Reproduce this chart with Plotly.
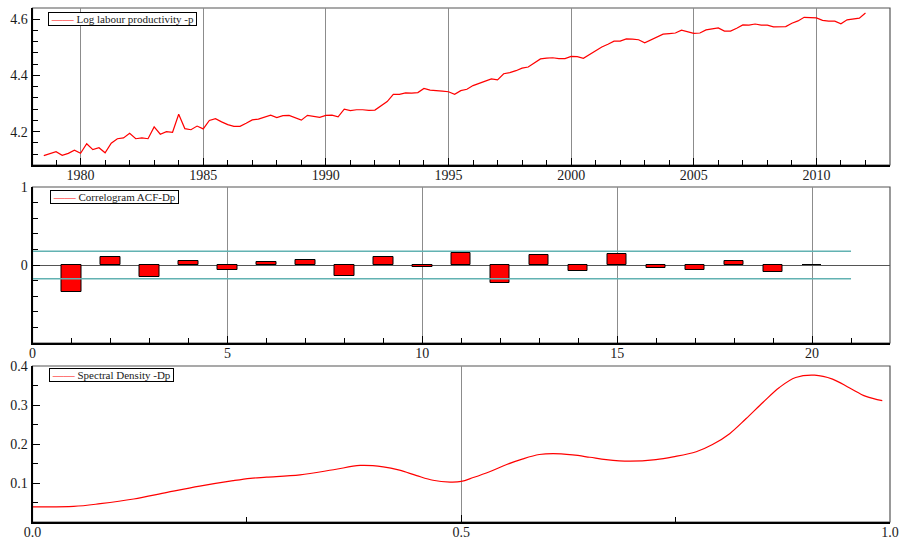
import numpy as np
import plotly.graph_objects as go

# ---- Data -------------------------------------------------------------
# Quarterly log labour productivity, 1978(3) - 2012(1)
p_start_year = 1978
p_start_quarter = 3
log_productivity = [
    4.115, 4.122, 4.129, 4.116, 4.123, 4.134, 4.123, 4.157, 4.136, 4.143,
    4.125, 4.159, 4.175, 4.178, 4.194, 4.175, 4.178, 4.175, 4.217, 4.191,
    4.200, 4.198, 4.262, 4.211, 4.207, 4.220, 4.210, 4.240, 4.246, 4.235,
    4.225, 4.219, 4.219, 4.230, 4.242, 4.245, 4.253, 4.259, 4.250, 4.257,
    4.258, 4.250, 4.241, 4.258, 4.255, 4.251, 4.258, 4.259, 4.253, 4.280,
    4.275, 4.278, 4.278, 4.276, 4.277, 4.292, 4.307, 4.333, 4.333, 4.338,
    4.337, 4.339, 4.354, 4.348, 4.345, 4.344, 4.342, 4.333, 4.346, 4.351,
    4.364, 4.371, 4.380, 4.388, 4.384, 4.406, 4.410, 4.417, 4.426, 4.430,
    4.445, 4.459, 4.462, 4.463, 4.460, 4.460, 4.468, 4.467, 4.461, 4.475,
    4.488, 4.501, 4.511, 4.522, 4.522, 4.530, 4.529, 4.527, 4.516, 4.527,
    4.537, 4.547, 4.549, 4.551, 4.561, 4.556, 4.550, 4.551, 4.562, 4.566,
    4.569, 4.558, 4.558, 4.568, 4.580, 4.579, 4.583, 4.579, 4.579, 4.573,
    4.573, 4.574, 4.586, 4.594, 4.607, 4.606, 4.605, 4.596, 4.593, 4.593,
    4.584, 4.598, 4.600, 4.604, 4.622,
]

# Autocorrelations of Dp, lags 1..20, and the +/- 2/sqrt(T) band
acf_lags = list(range(1, 21))
acf_values = [
    -0.342, 0.105, -0.156, 0.046, -0.059, 0.042, 0.068, -0.139, 0.101, -0.025,
    0.156, -0.236, 0.131, -0.072, 0.139, -0.042, -0.059, 0.046, -0.089, 0.004,
]
acf_band = 0.177

# Estimated spectral density of Dp (frequency as a fraction of pi)
spec_freq = [
    0.000, 0.048, 0.079, 0.118, 0.157, 0.195, 0.234, 0.254, 0.273, 0.312,
    0.351, 0.382, 0.409, 0.428, 0.448, 0.467, 0.487, 0.500, 0.514, 0.533,
    0.553, 0.572, 0.591, 0.607, 0.630, 0.650, 0.669, 0.696, 0.727, 0.747,
    0.774, 0.793, 0.813, 0.832, 0.852, 0.871, 0.890, 0.912, 0.933, 0.953,
    0.972, 0.991,
]
spec_density = [
    0.039, 0.040, 0.047, 0.059, 0.076, 0.092, 0.106, 0.112, 0.115, 0.121,
    0.134, 0.145, 0.1415, 0.133, 0.119, 0.107, 0.1025, 0.104, 0.114, 0.129,
    0.1475, 0.162, 0.173, 0.1755, 0.172, 0.166, 0.160, 0.156, 0.160, 0.167,
    0.180, 0.1985, 0.2265, 0.2646, 0.307, 0.345, 0.3705, 0.3766, 0.3664, 0.3435,
    0.322, 0.311,
]

series_names = ["Log labour productivity -p", "Correlogram ACF-Dp", "Spectral Density -Dp"]

# ---- Derived -----------------------------------------------------------
n_obs = len(log_productivity)
p_dates = p_start_year + (p_start_quarter - 1) / 4 + 0.25 * np.arange(n_obs)
band_end = len(acf_lags) + 1

# ---- Style --------------------------------------------------------------
W, H = 901, 542
FONT = "Liberation Serif"
RED = "#ff0000"
GRID = "#8c8c8c"
TEAL = "#62b2b2"

x0, x1 = 32.5 / W, 890 / W
def ydom(top_px, bot_px):
    return [1 - bot_px / H, 1 - top_px / H]

dom1 = ydom(8, 165)
dom2 = ydom(187, 343)
dom3 = ydom(366, 522)

fig = go.Figure()

# Panel 1: productivity series
fig.add_trace(go.Scatter(
    x=p_dates, y=log_productivity, mode="lines",
    line=dict(color=RED, width=1.2),
    name=series_names[0], showlegend=False,
    xaxis="x", yaxis="y",
))

# Panel 2: correlogram
fig.add_trace(go.Bar(
    x=acf_lags, y=acf_values, width=0.5,
    marker=dict(color=RED, line=dict(color="black", width=1)),
    name=series_names[1], showlegend=False, xaxis="x2", yaxis="y2",
))
for sgn in (1, -1):
    fig.add_trace(go.Scatter(
        x=[0, band_end], y=[sgn * acf_band, sgn * acf_band], mode="lines",
        line=dict(color=TEAL, width=1.6), showlegend=False,
        xaxis="x2", yaxis="y2",
    ))

# Panel 3: spectral density
fig.add_trace(go.Scatter(
    x=spec_freq, y=spec_density, mode="lines",
    line=dict(color=RED, width=1.2, shape="spline", smoothing=1.0),
    name=series_names[2], showlegend=False,
    xaxis="x3", yaxis="y3",
))

tickfont = dict(family=FONT, size=14, color="#1a1a1a")

def xax(rng, tickvals, ticktext, minor_dtick, anchor, grid_vals=True):
    return dict(
        domain=[x0, x1], range=rng, anchor=anchor, automargin=False,
        tickvals=tickvals, ticktext=ticktext, ticklabelstandoff=-4,
        ticks="inside", ticklen=7, tickcolor="black", tickwidth=1,
        minor=dict(dtick=minor_dtick, ticks="inside", ticklen=5,
                   tickcolor="black", showgrid=False),
        showgrid=grid_vals, gridcolor=GRID, gridwidth=1,
        showline=True, linecolor="black", linewidth=2,
        zeroline=False, tickfont=tickfont, fixedrange=True,
    )

def yax(rng, dom, tickvals, ticktext, minor_dtick, anchor, zeroline=False):
    return dict(
        domain=dom, range=rng, anchor=anchor, automargin=False,
        tickvals=tickvals, ticktext=ticktext,
        ticks="inside", ticklen=7, tickcolor="black", tickwidth=1,
        minor=dict(dtick=minor_dtick, ticks="inside", ticklen=5,
                   tickcolor="black", showgrid=False),
        showgrid=False, showline=True, linecolor="black", linewidth=2,
        zeroline=zeroline, zerolinecolor="#555555", zerolinewidth=1,
        tickfont=tickfont, fixedrange=True,
    )

years = list(range(1980, 2011, 5))
fig.update_layout(
    template="none",
    width=W, height=H,
    margin=dict(l=0, r=0, t=0, b=0, autoexpand=False),
    paper_bgcolor="white", plot_bgcolor="white",
    bargap=0, showlegend=False,
    xaxis=xax([1978.04, 2013.0], years, [str(y) for y in years], 1, "y"),
    yaxis=yax([4.0815, 4.640], dom1, [4.2, 4.4, 4.6], ["4.2", "4.4", "4.6"], 0.04, "x"),
    xaxis2=xax([0, 22], [5, 10, 15, 20, 0], ["5", "10", "15", "20", "0"], 1, "y2"),
    yaxis2=yax([-1, 1], dom2, [0, 1], ["0", "1"], 0.2, "x2", zeroline=True),
    xaxis3=xax([0, 1], [0.5, 0.0, 1.0], ["0.5", "0.0", "1.0"], 0.25, "y3"),
    yaxis3=yax([0, 0.4], dom3, [0.1, 0.2, 0.3, 0.4], ["0.1", "0.2", "0.3", "0.4"], 0.05, "x3"),
)

# Frames around the three panels
for dom in (dom1, dom2, dom3):
    fig.add_shape(type="rect", xref="paper", yref="paper",
                  x0=x0, x1=x1, y0=dom[0], y1=dom[1],
                  line=dict(color="#555555", width=1.2), layer="below")

# Boxed key in the top-left corner of each panel
key_pos = [(48, 12), (50, 190), (49, 368)]
for name, (kx, ky) in zip(series_names, key_pos):
    fig.add_annotation(
        xref="paper", yref="paper", x=kx / W, y=1 - ky / H,
        xanchor="left", yanchor="top", showarrow=False, align="left",
        text=(f"&nbsp;<span style='color:{RED}'>——</span>&nbsp;{name}&nbsp;"),
        font=dict(family=FONT, size=11, color="#1a1a1a"),
        bgcolor="white", bordercolor="black", borderwidth=1, borderpad=0,
    )

fig.write_html("out.html")
